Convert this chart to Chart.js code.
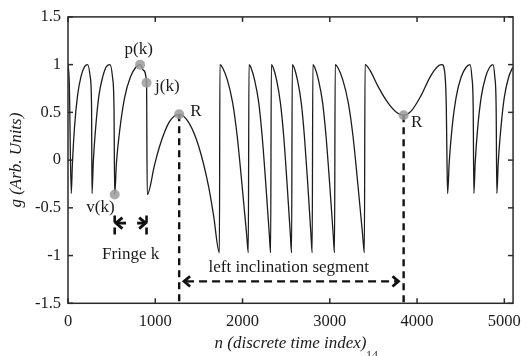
<!DOCTYPE html>
<html><head><meta charset="utf-8">
<script src="https://cdn.jsdelivr.net/npm/chart.js@4"></script>
<style>html,body{margin:0;padding:0;background:#fff;}canvas{display:block;}</style>
</head><body>
<canvas id="c" width="529" height="356"></canvas>
<script>
// ---- data ----
const nIdx = [
  0, 15, 37,
  50, 75, 110, 150, 190, 225, 255, 270, 275,
  290, 318, 355, 400, 440, 481, 510, 527, 535,
  555, 595, 650, 715, 775, 826, 865, 900, 908,
  992, 1048, 1161, 1274, 1386, 1499, 1612, 1668, 1735,
  1741, 1770, 1826, 1887, 1939, 1991, 2047, 2066,
  2074, 2096, 2138, 2186, 2225, 2265, 2307, 2322,
  2330, 2351, 2390, 2434, 2472, 2509, 2548, 2562,
  2570, 2591, 2629, 2673, 2709, 2746, 2784, 2798,
  2806, 2828, 2870, 2918, 2957, 2997, 3039, 3054,
  3062, 3092, 3149, 3212, 3266, 3319, 3376, 3396,
  3404, 3461, 3554, 3667, 3779, 3846, 3929, 4042, 4155, 4249, 4286, 4318, 4335, 4342, 4350,
  4368, 4400, 4448, 4505, 4560, 4606, 4628, 4643, 4651,
  4666, 4694, 4735, 4785, 4830, 4869, 4891, 4906, 4914,
  4930, 4960, 5000, 5050, 5095
];
const gVal = [
  1.0, 0.8, -0.35,
  -0.05, 0.35, 0.68, 0.88, 0.98, 1.0, 0.87, 0.56, -0.35,
  -0.02, 0.35, 0.68, 0.88, 0.98, 1.0, 0.87, 0.56, -0.36,
  -0.03, 0.33, 0.66, 0.87, 0.97, 1.0, 0.94, 0.81, -0.36,
  -0.05, 0.14, 0.40, 0.48, 0.39, 0.14, -0.28, -0.58, -0.97,
  1.0, 0.97, 0.84, 0.60, 0.25, -0.23, -0.78, -0.97,
  1.0, 0.97, 0.84, 0.60, 0.25, -0.23, -0.78, -0.97,
  1.0, 0.97, 0.84, 0.60, 0.25, -0.23, -0.78, -0.97,
  1.0, 0.97, 0.84, 0.60, 0.25, -0.23, -0.78, -0.97,
  1.0, 0.97, 0.84, 0.60, 0.25, -0.23, -0.78, -0.97,
  1.0, 0.97, 0.84, 0.60, 0.25, -0.23, -0.78, -0.97,
  1.0, 0.94, 0.77, 0.60, 0.49, 0.47, 0.51, 0.67, 0.88, 0.99, 1.0, 0.91, 0.56, 0.05, -0.35,
  -0.03, 0.33, 0.66, 0.87, 0.97, 1.0, 0.87, 0.56, -0.35,
  -0.03, 0.33, 0.66, 0.87, 0.97, 1.0, 0.87, 0.56, -0.35,
  -0.03, 0.33, 0.66, 0.87, 0.97
];
const xTicks = [0, 1000, 2000, 3000, 4000, 5000];
const yTicks = [-1.5, -1, -0.5, 0, 0.5, 1, 1.5];

// marked points: p(k), j(k), v(k), R, R
const markN = [826, 900, 535, 1274, 3846];
const markG = [1.0, 0.81, -0.36, 0.48, 0.47];

// annotation texts
const labelText = ['p(k)', 'j(k)', 'v(k)', 'R', 'R', 'Fringe k', 'left inclination segment'];
const labelN    = [811, 1138, 372, 1465, 3995, 718, 2530];
const labelG    = [1.16, 0.77, -0.50, 0.51, 0.39, -0.99, -1.125];

// fringe k bracket
const fringeLineG = [-0.58, -0.78];
const fringeArrowG = -0.66;
const fringeArrowTail = [665, 792];
const fringeArrowTip  = [549, 890];

// left inclination segment arrow
const segArrowG = -1.27;
const segArrowTip = [1330, 3787];

const FONT = '"Liberation Serif", "Times New Roman", serif';

function line(ctx, x1, y1, x2, y2) { ctx.beginPath(); ctx.moveTo(x1, y1); ctx.lineTo(x2, y2); ctx.stroke(); }
function head(ctx, x, y, dir, s) {
  ctx.beginPath();
  ctx.moveTo(x - dir * s, y - s * 0.85);
  ctx.lineTo(x, y);
  ctx.lineTo(x - dir * s, y + s * 0.85);
  ctx.stroke();
}

const overlay = {
  id: 'overlay',
  beforeDatasetsDraw(chart) {
    const ctx = chart.ctx, xs = chart.scales.x, ys = chart.scales.y;
    ctx.save();
    ctx.strokeStyle = '#111';
    ctx.lineWidth = 2.4;
    ctx.setLineDash([7, 5]);
    // R dashed verticals
    [3, 4].forEach(i => {
      const px = xs.getPixelForValue(markN[i]);
      line(ctx, px, ys.getPixelForValue(markG[i]), px, ys.getPixelForValue(yTicks[0]));
    });
    // fringe k dashed verticals
    ctx.lineWidth = 2.6;
    ctx.setLineDash([7, 5]);
    [2, 1].forEach(i => {
      const px = xs.getPixelForValue(markN[i]);
      line(ctx, px, ys.getPixelForValue(fringeLineG[0]), px, ys.getPixelForValue(fringeLineG[1]));
    });
    // horizontal segment arrow
    ctx.lineWidth = 2.4;
    ctx.setLineDash([8, 5]);
    const ay = ys.getPixelForValue(segArrowG);
    const ax1 = xs.getPixelForValue(segArrowTip[0]), ax2 = xs.getPixelForValue(segArrowTip[1]);
    line(ctx, ax1 + 2, ay, ax2 - 2, ay);
    ctx.setLineDash([]);
    ctx.lineWidth = 2.8;
    ctx.lineJoin = 'miter';
    head(ctx, ax1, ay, -1, 6);
    head(ctx, ax2, ay, 1, 6);
    // fringe arrows
    const fy = ys.getPixelForValue(fringeArrowG);
    [0, 1].forEach(i => {
      const t = xs.getPixelForValue(fringeArrowTail[i]), p = xs.getPixelForValue(fringeArrowTip[i]);
      const dir = p > t ? 1 : -1;
      line(ctx, t, fy, p - dir * 1.5, fy);
      head(ctx, p, fy, dir, 6.5);
    });
    // texts
    ctx.fillStyle = '#1a1a1a';
    ctx.font = '17px ' + FONT;
    ctx.textAlign = 'center';
    ctx.textBaseline = 'middle';
    labelText.forEach((t, i) => {
      ctx.fillText(t, xs.getPixelForValue(labelN[i]), ys.getPixelForValue(labelG[i]));
    });
    ctx.restore();
  },
  afterDraw(chart) {
    const ctx = chart.ctx, xs = chart.scales.x, ys = chart.scales.y;
    const {left, right, top, bottom} = chart.chartArea;
    ctx.save();
    ctx.strokeStyle = '#2a2a2a';
    ctx.lineWidth = 1.5;
    ctx.strokeRect(left, top, right - left, bottom - top);
    const tl = 5;
    xTicks.forEach(v => {
      const p = xs.getPixelForValue(v);
      line(ctx, p, bottom, p, bottom - tl);
      line(ctx, p, top, p, top + tl);
    });
    yTicks.forEach(v => {
      const p = ys.getPixelForValue(v);
      line(ctx, left, p, left + tl, p);
      line(ctx, right, p, right - tl, p);
    });
    // stray page-number text at the bottom edge of the figure
    ctx.fillStyle = '#333';
    ctx.font = '12px ' + FONT;
    ctx.textAlign = 'center';
    ctx.textBaseline = 'top';
    ctx.fillText('14', 372, 350);
    ctx.restore();
  }
};

new Chart(document.getElementById('c').getContext('2d'), {
  type: 'line',
  data: {
    datasets: [
      {
        type: 'scatter',
        data: markN.map((n, i) => ({x: n, y: markG[i]})),
        pointRadius: 5,
        pointBackgroundColor: 'rgba(155,155,155,0.85)',
        pointBorderWidth: 0,
        showLine: false,
        order: 0
      },
      {
        data: nIdx.map((n, i) => ({x: n, y: gVal[i]})),
        borderColor: '#1c1c1c',
        borderWidth: 1.3,
        pointRadius: 0,
        cubicInterpolationMode: 'monotone',
        fill: false,
        order: 1
      }
    ]
  },
  options: {
    responsive: false,
    animation: false,
    devicePixelRatio: 1,
    layout: {padding: {left: 0, right: 8.5, top: 12.3, bottom: 0}},
    plugins: {legend: {display: false}, tooltip: {enabled: false}},
    scales: {
      x: {
        type: 'linear', min: 0, max: 5100,
        afterBuildTicks: s => { s.ticks = xTicks.map(v => ({value: v})); },
        afterFit: s => { s.height = 52.7; },
        grid: {display: false, drawTicks: false},
        border: {display: false},
        ticks: {padding: 8, color: '#1a1a1a', font: {family: FONT, size: 16.5}, callback: v => String(v), maxRotation: 0, autoSkip: false},
        title: {display: true, text: 'n (discrete time index)', color: '#1a1a1a', font: {family: FONT, style: 'italic', size: 17}, padding: {top: 0, bottom: 2.5}}
      },
      y: {
        type: 'linear', min: -1.5, max: 1.5,
        afterBuildTicks: s => { s.ticks = yTicks.map(v => ({value: v})); },
        afterFit: s => { s.width = 68; },
        grid: {display: false, drawTicks: false},
        border: {display: false},
        ticks: {padding: 7, color: '#1a1a1a', font: {family: FONT, size: 16.5}, callback: v => String(v), autoSkip: false},
        title: {display: true, text: 'g (Arb. Units)', color: '#1a1a1a', font: {family: FONT, style: 'italic', size: 17}, padding: {top: 6, bottom: 0}}
      }
    }
  },
  plugins: [overlay]
});
</script>
</body></html>
